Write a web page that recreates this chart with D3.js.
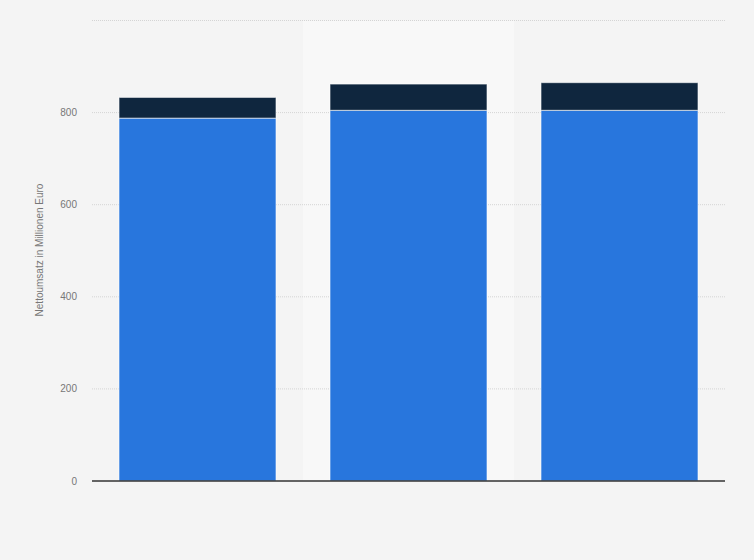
<!DOCTYPE html>
<html>
<head>
<meta charset="utf-8">
<script src="https://cdn.jsdelivr.net/npm/d3@7"></script>
<style>
  html, body { margin: 0; padding: 0; background: #f4f4f4; }
  svg { display: block; font-family: "Liberation Sans", Arial, sans-serif; }
</style>
</head>
<body>
<svg id="chart" width="754" height="560"></svg>
<script>
// chart values (no category labels shown in the picture)
var categories = ["a", "b", "c"];
var baseValues = [788, 805, 805];
var topValues = [45, 57, 60];
var yTicks = [0, 200, 400, 600, 800, 1000];
var yTickLabels = ["0", "200", "400", "600", "800", ""];
var highlighted = "b";

var svg = d3.select("#chart");
var margin = {top: 20.5, right: 29, bottom: 79, left: 92};
var width = 754 - margin.left - margin.right;
var height = 560 - margin.top - margin.bottom;

var x = d3.scaleBand().domain(categories).range([0, width]).paddingInner(0).paddingOuter(0);
var y = d3.scaleLinear().domain([0, 1000]).range([height, 0]);

var g = svg.append("g").attr("transform", "translate(" + margin.left + "," + margin.top + ")");

// lighter band behind the highlighted column
g.append("rect")
    .attr("x", x(highlighted))
    .attr("y", y(1000))
    .attr("width", x.bandwidth())
    .attr("height", height - y(1000))
    .style("fill", "#f8f8f8");

// gridlines
g.selectAll("line.grid").data(yTicks.slice(1)).enter().append("line")
    .attr("class", "grid")
    .attr("x1", 0)
    .attr("x2", width)
    .attr("y1", function (d) { return y(d); })
    .attr("y2", function (d) { return y(d); })
    .style("stroke", "#d4d4d4")
    .style("stroke-width", 1)
    .style("stroke-dasharray", "1,1");

// tick labels
g.selectAll("text.tick").data(yTicks).enter().append("text")
    .attr("class", "tick")
    .attr("x", -15)
    .attr("y", function (d) { return y(d); })
    .attr("dy", "0.35em")
    .attr("text-anchor", "end")
    .style("font-size", "10px")
    .style("fill", "#777")
    .text(function (d, i) { return yTickLabels[i]; });

// stacked bars
var stacked = categories.map(function (c, i) {
    return {cat: c, base: baseValues[i], top: topValues[i]};
});
var barW = 157;
var off = (x.bandwidth() - barW) / 2;

g.selectAll("rect.base").data(stacked).enter().append("rect")
    .attr("class", "base")
    .attr("x", function (d) { return x(d.cat) + off; })
    .attr("y", function (d) { return y(d.base); })
    .attr("width", barW)
    .attr("height", function (d) { return y(0) - y(d.base); })
    .style("fill", "#2876dd")
    .style("stroke", "#ffffff")
    .style("stroke-opacity", 0.6)
    .style("stroke-width", 1);

g.selectAll("rect.top").data(stacked).enter().append("rect")
    .attr("class", "top")
    .attr("x", function (d) { return x(d.cat) + off; })
    .attr("y", function (d) { return y(d.base + d.top); })
    .attr("width", barW)
    .attr("height", function (d) { return y(d.base) - y(d.base + d.top); })
    .style("fill", "#0f263e")
    .style("stroke", "#ffffff")
    .style("stroke-opacity", 0.6)
    .style("stroke-width", 1);

// baseline
g.append("line")
    .attr("x1", 0)
    .attr("x2", width)
    .attr("y1", y(0))
    .attr("y2", y(0))
    .style("stroke", "#333")
    .style("stroke-width", 1.3);

// y axis title
svg.append("text")
    .attr("transform", "translate(43,250) rotate(-90)")
    .attr("text-anchor", "middle")
    .style("font-size", "10px")
    .style("fill", "#777")
    .text("Nettoumsatz in Millionen Euro");
</script>
</body>
</html>
